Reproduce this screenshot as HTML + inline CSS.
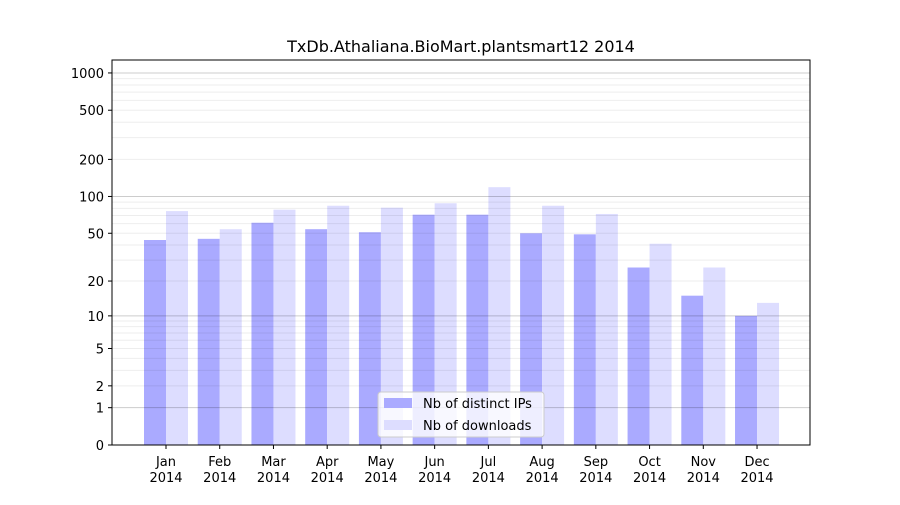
<!DOCTYPE html>
<html><head><meta charset="utf-8"><style>
body{margin:0;background:#fff;font-family:"Liberation Sans","DejaVu Sans",sans-serif;}
</style></head><body>
<svg width="900" height="500" xmlns="http://www.w3.org/2000/svg" font-family="DejaVu Sans, Liberation Sans, sans-serif">
<rect width="900" height="500" fill="#fff"/>
<text x="461" y="52" font-size="16" text-anchor="middle">TxDb.Athaliana.BioMart.plantsmart12 2014</text>
<g id="bars"></g>
<g id="grid"></g>
<rect x="112" y="60" width="698" height="385" fill="none" stroke="#000" stroke-width="1"/>
<g id="yticks"></g>
<g id="xticks"></g>
<g>
<rect x="378" y="392" width="166" height="45" rx="3" fill="#fff" fill-opacity="0.8" stroke="#ccc"/>
<rect x="384" y="398" width="28" height="10" fill="#aaaaff"/>
<text x="423" y="408" font-size="13">Nb of distinct IPs</text>
<rect x="384" y="420" width="28" height="10" fill="#ddddff"/>
<text x="423" y="430" font-size="13">Nb of downloads</text>
</g>
</svg>
<script>
const months=["Jan","Feb","Mar","Apr","May","Jun","Jul","Aug","Sep","Oct","Nov","Dec"];
const ips=[44,45,61,54,51,71,71,50,49,26,15,10];
const downloads=[76,54,78,84,81,88,119,84,72,41,26,13];
const yTickValues=[0,1,2,5,10,20,50,100,200,500,1000];
const NS="http://www.w3.org/2000/svg";
function y(v){return 445-Math.log10(1+v)*124;}
function x(i){return 166+i*53.73;}
function mk(tag,attrs,parent){const e=document.createElementNS(NS,tag);for(const k in attrs)e.setAttribute(k,attrs[k]);parent.appendChild(e);return e;}
const bars=document.getElementById('bars'),grid=document.getElementById('grid'),yt=document.getElementById('yticks'),xt=document.getElementById('xticks');
months.forEach((m,i)=>{
 const a=mk('rect',{x:x(i)-22,y:y(ips[i]),width:22,height:445-y(ips[i]),fill:'#aaaaff'},bars);
 
 
 const b=mk('rect',{x:x(i),y:y(downloads[i]),width:22,height:445-y(downloads[i]),fill:'#ddddff'},bars);
 
 
 mk('line',{x1:x(i),x2:x(i),y1:445,y2:449,stroke:'#000'},xt);
 const t=mk('text',{x:x(i),y:466,'font-size':13,'text-anchor':'middle'},xt);
 t.textContent=m;
 
 
 const t2=mk('text',{x:x(i),y:482,'font-size':13,'text-anchor':'middle'},xt);
 t2.textContent='2014';
 
 
});
[1,10,100,1000].forEach(d=>{for(let k=1;k<10;k++){const v=d*k;if(v>1000)break;
 const gl=mk('line',{x1:112,x2:810,y1:y(v),y2:y(v),stroke:k===1?'rgba(0,0,0,0.2)':'rgba(0,0,0,0.07)','stroke-width':1},grid);
 
 
}});
yTickValues.forEach(v=>{
 mk('line',{x1:108,x2:112,y1:y(v),y2:y(v),stroke:'#000'},yt);
 const t=mk('text',{x:104,y:y(v)+5,'font-size':13,'text-anchor':'end'},yt);
 t.textContent=v;
 
 
});
</script>
</body></html>
